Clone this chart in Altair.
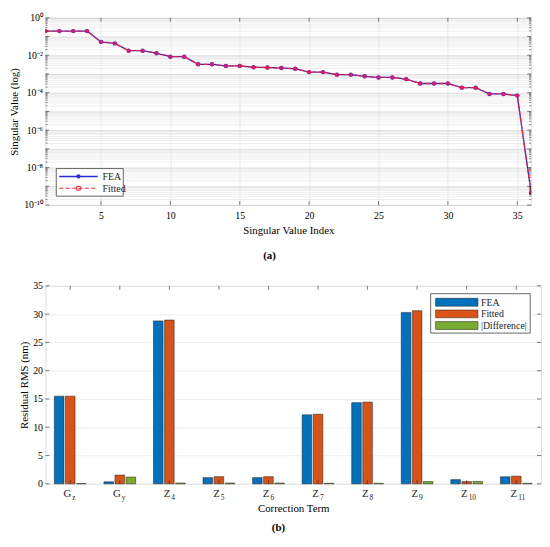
import altair as alt
import pandas as pd

SERIF = "Liberation Serif"
INK = "#262626"

# ---------------- (a) singular values ----------------
sv_index = list(range(1, 37))
sv_fea = [0.195, 0.195, 0.195, 0.195, 0.052, 0.043, 0.0175, 0.0175, 0.0129,
          0.0084, 0.0084, 0.0033, 0.0033, 0.0027, 0.0027, 0.0023, 0.0022,
          0.0021, 0.0019, 0.00126, 0.00126, 0.00092, 0.00092, 0.00075,
          0.00065, 0.00065, 0.00053, 0.00031, 0.00031, 0.00031, 0.000186,
          0.000186, 0.0000855, 0.0000855, 0.000070, 4.4e-10]
sv_fit = list(sv_fea)
line_series = ["FEA", "Fitted"]
line_colors = ["#2a2ad8", "#ff1f2f"]
x_ticks_a = [5, 10, 15, 20, 25, 30, 35]

# ---------------- (b) residual RMS ----------------
terms = ["Gz", "Gy", "Z4", "Z5", "Z6", "Z7", "Z8", "Z9", "Z10", "Z11"]
term_base = ["G", "G", "Z", "Z", "Z", "Z", "Z", "Z", "Z", "Z"]
term_sub = ["z", "y", "4", "5", "6", "7", "8", "9", "10", "11"]
rms_fea = [15.5, 0.35, 28.8, 1.1, 1.1, 12.2, 14.35, 30.3, 0.75, 1.25]
rms_fit = [15.5, 1.55, 28.95, 1.27, 1.27, 12.3, 14.45, 30.6, 0.4, 1.35]
rms_diff = [0.05, 1.2, 0.15, 0.15, 0.15, 0.1, 0.1, 0.4, 0.42, 0.1]
bar_series = ["FEA", "Fitted", "|Difference|"]
bar_colors = ["#0072BD", "#D95319", "#77AC30"]
y_ticks_b = [0, 5, 10, 15, 20, 25, 30, 35]

# ---------- build tables ----------
df_a = pd.DataFrame({
    "idx": sv_index * 2,
    "val": sv_fea + sv_fit,
    "series": ["FEA"] * len(sv_index) + ["Fitted"] * len(sv_index),
})
df_b = pd.DataFrame({
    "term": terms * 3,
    "series": [bar_series[0]] * len(terms) + [bar_series[1]] * len(terms) + [bar_series[2]] * len(terms),
    "value": rms_fea + rms_fit + rms_diff,
})
df_terms = pd.DataFrame({"term": terms, "base": term_base, "sub": term_sub})
df_one = pd.DataFrame({"k": [0]})

# log-axis grid values (major decades + minor 2..9)
log_vals = []
log_major = []
for k in range(-10, 0):
    for m in range(1, 10):
        log_vals.append(float(f"{m}e{k}"))
        log_major.append(m == 1)
log_vals.append(1.0)
log_major.append(True)

df_xt_a = pd.DataFrame({"idx": x_ticks_a})
df_yt_a = pd.DataFrame({"val": log_vals, "major": log_major})
df_yt_b = pd.DataFrame({"value": y_ticks_b})

K = "round(log(datum.value)/LN10)"
IS_MAJOR = f"abs(log(datum.value)/LN10 - {K}) < 0.001"
sup = {0: "10⁰", -2: "10⁻²", -4: "10⁻⁴", -6: "10⁻⁶", -8: "10⁻⁸", -10: "10⁻¹⁰"}
expr = "''"
for k, s in sup.items():
    expr = f"{K} == {k} ? '{s}' : ({expr})"
label_expr = f"{IS_MAJOR} ? ({expr}) : ''"

W_A, H_A = 493, 190
W_B, H_B = 503, 201
TICK_W = 0.6

x_a = alt.X("idx:Q", scale=alt.Scale(domain=[1, 36], nice=False, zero=False),
            axis=alt.Axis(values=x_ticks_a, title="Singular Value Index", ticks=False,
                          domain=False, labelPadding=6, titlePadding=4,
                          gridColor="#dcdcdc", gridWidth=0.6,
                          labelFontSize=10, titleFontSize=11, labelFont=SERIF,
                          titleFont=SERIF, titleFontWeight="normal"))
y_a = alt.Y("val:Q", scale=alt.Scale(type="log", domain=[1e-10, 1], nice=False),
            axis=alt.Axis(values=log_vals, labelExpr=label_expr, title="Singular Value (log)",
                          ticks=False, domain=False, labelPadding=3, titlePadding=3,
                          gridColor={"condition": {"test": IS_MAJOR, "value": "#c9c9c9"},
                                     "value": "#e4e4e4"},
                          gridWidth=0.6, labelFontSize=10, titleFontSize=11,
                          labelFont=SERIF, titleFont=SERIF, titleFontWeight="normal",
                          labelOverlap=False))

lines = alt.Chart(df_a).mark_line(strokeWidth=1.3, clip=True).encode(
    x=x_a, y=y_a,
    color=alt.Color("series:N", scale=alt.Scale(domain=line_series, range=line_colors), legend=None),
    strokeDash=alt.StrokeDash("series:N", scale=alt.Scale(domain=line_series, range=[[1, 0], [4, 2.5]]),
                              legend=None),
)
pts_fea = alt.Chart(df_a).transform_filter("datum.series == 'FEA'").mark_point(
    shape="circle", filled=True, size=20, color=line_colors[0], opacity=1, clip=True).encode(
    x=x_a, y=y_a)
pts_fit = alt.Chart(df_a).transform_filter("datum.series == 'Fitted'").mark_point(
    shape="circle", filled=True, size=16, color="#ff1a4a", opacity=0.85, clip=True).encode(
    x=x_a, y=y_a)

# inward tick marks (a)
XT = alt.Chart(df_xt_a)
YT = alt.Chart(df_yt_a)
ticks_a = [
    XT.mark_rule(color=INK, strokeWidth=TICK_W).encode(x=x_a, y=alt.value(0), y2=alt.value(4)),
    XT.mark_rule(color=INK, strokeWidth=TICK_W).encode(x=x_a, y=alt.value(H_A), y2=alt.value(H_A - 4)),
    YT.transform_filter("datum.major").mark_rule(color=INK, strokeWidth=TICK_W).encode(
        y=y_a, x=alt.value(0), x2=alt.value(4)),
    YT.transform_filter("datum.major").mark_rule(color=INK, strokeWidth=TICK_W).encode(
        y=y_a, x=alt.value(W_A), x2=alt.value(W_A - 4)),
    YT.transform_filter("!datum.major").mark_rule(color=INK, strokeWidth=0.5).encode(
        y=y_a, x=alt.value(0), x2=alt.value(2.2)),
    YT.transform_filter("!datum.major").mark_rule(color=INK, strokeWidth=0.5).encode(
        y=y_a, x=alt.value(W_A), x2=alt.value(W_A - 2.2)),
]

# legend (a), drawn in plot pixels
ONE = alt.Chart(df_one)
r1, r2 = H_A - 29, H_A - 17
leg_a = [
    ONE.mark_rect(fill="white", stroke=INK, strokeWidth=0.7).encode(
        x=alt.value(11), x2=alt.value(79), y=alt.value(H_A - 37), y2=alt.value(H_A - 9)),
    ONE.mark_rule(color=line_colors[0], strokeWidth=1.4).encode(
        x=alt.value(14), x2=alt.value(53), y=alt.value(r1)),
    ONE.mark_point(shape="circle", filled=True, size=18, color=line_colors[0], opacity=1).encode(
        x=alt.value(33.5), y=alt.value(r1)),
    ONE.mark_rule(color=line_colors[1], strokeWidth=1.2, strokeDash=[4, 2.5]).encode(
        x=alt.value(14), x2=alt.value(53), y=alt.value(r2)),
    ONE.mark_point(shape="square", filled=False, size=14, color=line_colors[1], opacity=1,
                   strokeWidth=1).encode(x=alt.value(33.5), y=alt.value(r2)),
    ONE.mark_text(text=line_series[0], align="left", baseline="middle", font=SERIF,
                  fontSize=10, color=INK).encode(x=alt.value(58), y=alt.value(r1 + 0.5)),
    ONE.mark_text(text=line_series[1], align="left", baseline="middle", font=SERIF,
                  fontSize=10, color=INK).encode(x=alt.value(58), y=alt.value(r2 + 0.5)),
]

chart_a = alt.layer(lines, pts_fea, pts_fit, *ticks_a, *leg_a).properties(
    width=W_A, height=H_A,
    title=alt.TitleParams("(a)", orient="bottom", anchor="middle", fontWeight="bold",
                          font=SERIF, fontSize=11, color="black", offset=15, dx=-19),
)

# ---------- (b) ----------
x_b = alt.X("term:N", sort=terms, scale=alt.Scale(paddingInner=0.33, paddingOuter=0.165),
            axis=alt.Axis(labels=False, ticks=False, domain=False, title="Correction Term",
                          titlePadding=19, titleFontSize=11, titleFont=SERIF,
                          titleFontWeight="normal", grid=False))
y_b = alt.Y("value:Q", scale=alt.Scale(domain=[0, 35], nice=False),
            axis=alt.Axis(values=y_ticks_b, title="Residual RMS (nm)", ticks=False,
                          domain=False, labelPadding=3, titlePadding=3,
                          gridColor="#e6e6e6", gridWidth=0.7, labelFontSize=10,
                          titleFontSize=11, labelFont=SERIF, titleFont=SERIF,
                          titleFontWeight="normal"))
bars = alt.Chart(df_b).mark_bar(stroke="#1a1a1a", strokeWidth=0.5).encode(
    x=x_b,
    xOffset=alt.XOffset("series:N", sort=bar_series,
                        scale=alt.Scale(paddingInner=0.13, paddingOuter=0.065)),
    y=y_b,
    fill=alt.Fill("series:N", scale=alt.Scale(domain=bar_series, range=bar_colors), legend=None),
)
lab_base = alt.Chart(df_terms).mark_text(align="right", baseline="alphabetic", dx=1,
                                         font=SERIF, fontSize=11, color=INK).encode(
    x=x_b, y=alt.value(H_B + 13), text="base:N")
lab_sub = alt.Chart(df_terms).mark_text(align="left", baseline="alphabetic", dx=2,
                                        font=SERIF, fontSize=7.5, color=INK).encode(
    x=x_b, y=alt.value(H_B + 16), text="sub:N")

TB = alt.Chart(df_terms)
YB = alt.Chart(df_yt_b)
ticks_b = [
    TB.mark_rule(color=INK, strokeWidth=TICK_W).encode(x=x_b, y=alt.value(0), y2=alt.value(4)),
    TB.mark_rule(color=INK, strokeWidth=TICK_W).encode(x=x_b, y=alt.value(H_B), y2=alt.value(H_B - 4)),
    YB.mark_rule(color=INK, strokeWidth=TICK_W).encode(y=y_b, x=alt.value(0), x2=alt.value(4)),
    YB.mark_rule(color=INK, strokeWidth=TICK_W).encode(y=y_b, x=alt.value(W_B), x2=alt.value(W_B - 4)),
]

leg_b = [ONE.mark_rect(fill="white", stroke=INK, strokeWidth=0.7).encode(
    x=alt.value(W_B - 112), x2=alt.value(W_B - 11), y=alt.value(8), y2=alt.value(48))]
for i, (name, col) in enumerate(zip(bar_series, bar_colors)):
    cy = 16.7 + 11.8 * i
    leg_b.append(ONE.mark_rect(fill=col, stroke="#1a1a1a", strokeWidth=0.5).encode(
        x=alt.value(W_B - 107), x2=alt.value(W_B - 64), y=alt.value(cy - 4), y2=alt.value(cy + 4)))
    leg_b.append(ONE.mark_text(text=name, align="left", baseline="middle", font=SERIF,
                               fontSize=10, color=INK).encode(x=alt.value(W_B - 61), y=alt.value(cy + 0.5)))

chart_b = alt.layer(bars, *ticks_b, lab_base, lab_sub, *leg_b).properties(
    width=W_B, height=H_B,
    title=alt.TitleParams("(b)", orient="bottom", anchor="middle", fontWeight="bold",
                          font=SERIF, fontSize=11, color="black", offset=9, dx=-15),
)

chart = alt.vconcat(alt.hconcat(chart_a), alt.hconcat(chart_b), spacing=18).properties(
    padding={"left": 0, "top": 0, "right": 0, "bottom": 0}
).configure_view(stroke=INK, strokeWidth=0.7).configure_axis(
    labelColor=INK, titleColor=INK
).configure(background="white")

chart.save("out.html", embed_options={"renderer": "svg", "actions": False})
